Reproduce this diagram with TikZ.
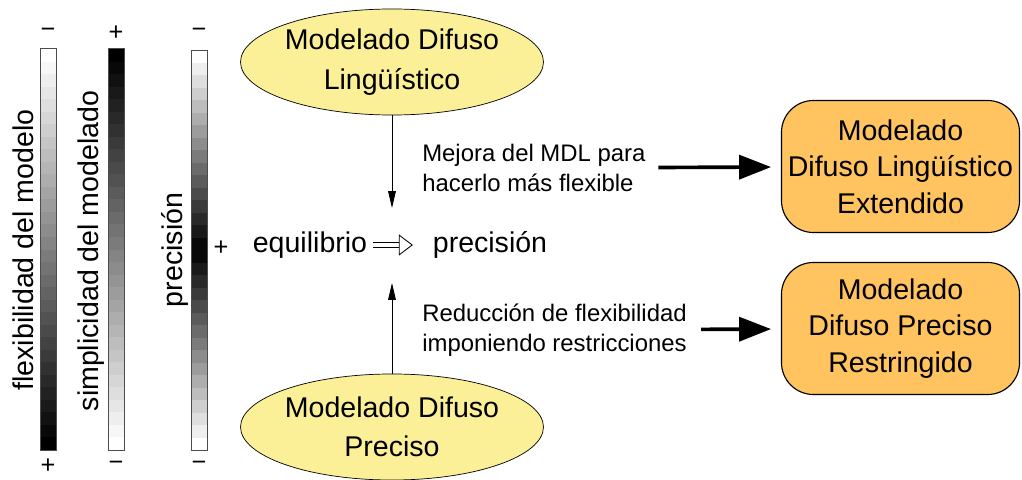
\documentclass[tikz,border=0pt]{standalone}
\usepackage{fontspec}
\setmainfont{Liberation Sans}
\usetikzlibrary{positioning, shapes, arrows.meta}
\definecolor{difuso}{RGB}{251,240,152}
\definecolor{naranja}{RGB}{255,195,95}

\begin{document}
\begin{tikzpicture}[
		x=0.025cm, y=-0.025cm,
		big/.style={font=\fontsize{20.3}{26}\selectfont, align=center},
		small/.style={font=\fontsize{17}{21.5}\selectfont, align=left, inner sep=0pt},
		sign/.style={font=\fontsize{18}{18}\selectfont, inner sep=0pt},
		bar/.style={draw=black!70, line width=0.6pt, minimum width=0.4cm, minimum height=10.03cm, inner sep=0pt},
		modelo/.style={big, font=\fontsize{20.3}{28}\selectfont, draw, ellipse, fill=difuso, line width=0.5pt, minimum width=7.55cm, minimum height=2.65cm, inner sep=0pt},
		extendido/.style={big, draw, rounded corners=0.8cm, fill=naranja, line width=0.8pt, minimum width=5.95cm, minimum height=3.3cm},
		fino/.style={-{Triangle[length=12pt, width=5.5pt]}, line width=0.6pt},
		grueso/.style={-{Triangle[length=0.8cm, width=0.6cm]}, line width=2.6pt},
		implica/.style={double, double distance=3.2pt, line width=0.6pt, -{Triangle[open, length=10pt, width=15pt, line width=0.6pt]}}
		]
		\useasboundingbox (0,0) rectangle (1022,480);
		
		% degraded bars
		\foreach \i in {0,...,31} {
			\pgfmathsetmacro\k{100*\i/31}
			\pgfmathsetmacro\m{100-\k}
			\pgfmathsetmacro\n{100*(1-abs(\i-15.5)/15.5)}
			\fill[black!\k] (40,{49+\i*401/32}) rectangle (56,{49+(\i+1)*401/32+0.5});
			\fill[black!\m] (108,{49+\i*401/32}) rectangle (124,{49+(\i+1)*401/32+0.5});
			\fill[black!\n] (191,{50+\i*400/32}) rectangle (207,{50+(\i+1)*400/32+0.5});
		}
		\node[bar] (flex) at (48,249.5) {};
		\node[bar] (simp) at (116,249.5) {};
		\node[bar, minimum height=10cm] (prebar) at (199,250) {};
		
		\node[big, rotate=90] (flexlab) at (23,250) {flexibilidad del modelo};
		\node[big, rotate=90] (simplab) at (91,251) {simplicidad del modelado};
		\node[big, rotate=90] (prelab) at (175,250) {precisión};
		
		\node[sign] (flexmin) at (48,33) {−};
		\node[sign] (flexmax) at (48,466) {+};
		\node[sign] (simpmax) at (116,33) {+};
		\node[sign] (simpmin) at (116,466) {−};
		\node[sign] (premin) at (199,33) {−};
		\node[sign] (premin2) at (199,466) {−};
		\node[sign] (premax) at (221,248) {+};
		
		% models
		\node[modelo] (mdl) at (392,62) {Modelado Difuso\\Lingüístico};
		\node[modelo] (mdp) at (392,427) {Modelado Difuso\\Preciso};
		
		\node[big, inner sep=1pt] (equil) at (310,245) {equilibrio};
		\node[big, inner sep=1pt] (prec) at (490,245) {precisión};
		\draw[implica, shorten >=13pt, shorten <=3pt] (equil) -- (prec);
		
		\coordinate (arriba) at (392,208);
		\coordinate (abajo) at (392,283);
		\draw[fino] (mdl) -- (arriba);
		\draw[fino] (mdp) -- (abajo);
		
		\node[small, anchor=west] (mejora) at (422,168) {Mejora del MDL para\\hacerlo más flexible};
		\node[small, anchor=west] (reduccion) at (422,330) {Reducción de flexibilidad\\imponiendo restricciones};
		
		\node[extendido] (mdle) at (900.5,166.5) {Modelado\\Difuso Lingüístico\\Extendido};
		\node[extendido] (mdpr) at (900.5,328.5) {Modelado\\Difuso Preciso\\Restringido};
		
		\draw[grueso, shorten <=9pt, shorten >=7pt] (mejora) -- (mdle);
		\draw[grueso, shorten <=10pt, shorten >=7pt] (reduccion) -- (mdpr);
		
	\end{tikzpicture}
\end{document}
